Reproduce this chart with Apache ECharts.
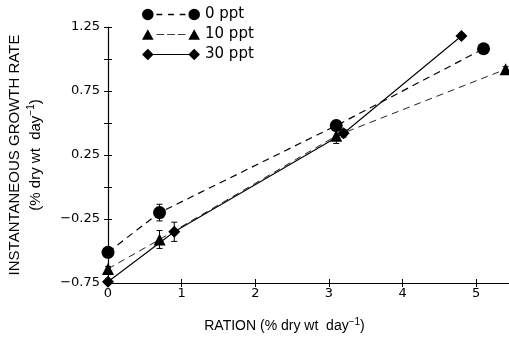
<!DOCTYPE html>
<html>
<head>
<meta charset="utf-8">
<script src="https://cdn.jsdelivr.net/npm/echarts@6/dist/echarts.min.js"></script>
<style>
  html, body { margin: 0; padding: 0; background: #fff; }
  #chart { width: 509px; height: 342px; }
</style>
</head>
<body>
<div id="chart"></div>
<script>
// ration (% dry wt / day) vs instantaneous growth rate, three salinities
const ration0 = [0, 0.7, 3.1, 5.1];
const growth0 = [-0.51, -0.20, 0.48, 1.08];
const se0 = [0.02, 0.065, 0.03, 0.02];

const ration10 = [0, 0.7, 3.1, 5.4];
const growth10 = [-0.64, -0.41, 0.40, 0.92];
const se10 = [0.02, 0.07, 0.06, 0.02];

const ration30 = [0, 0.9, 3.2, 4.8];
const growth30 = [-0.74, -0.35, 0.42, 1.18];
const se30 = [0.02, 0.075, 0.03, 0.02];

const seriesNames = ['0 ppt', '10 ppt', '30 ppt'];
const yTicks = [-0.75, -0.25, 0.25, 0.75, 1.25];

const font = 'DejaVu Sans';
const chart = echarts.init(document.getElementById('chart'));

const pts = (xs, ys) => xs.map((x, i) => [x, ys[i]]);
const errs = (xs, ys, se) => xs.map((x, i) => [x, ys[i] - se[i], ys[i] + se[i]]);

function errorBar(params, api) {
  const lo = api.coord([api.value(0), api.value(1)]);
  const hi = api.coord([api.value(0), api.value(2)]);
  const w = 3;
  const style = { stroke: '#000', lineWidth: 1 };
  return {
    type: 'group',
    children: [
      { type: 'line', shape: { x1: lo[0], y1: lo[1], x2: hi[0], y2: hi[1] }, style },
      { type: 'line', shape: { x1: lo[0] - w, y1: lo[1], x2: lo[0] + w, y2: lo[1] }, style },
      { type: 'line', shape: { x1: hi[0] - w, y1: hi[1], x2: hi[0] + w, y2: hi[1] }, style }
    ]
  };
}

// legend icons: marker - line - marker
const icons = {
  '0 ppt': 'path://M0 6a6 6 0 1 0 12 0a6 6 0 1 0 -12 0Z M48 6a6 6 0 1 0 12 0a6 6 0 1 0 -12 0Z M15 5.3h6v1.4h-6Z M27 5.3h6v1.4h-6Z M39 5.3h6v1.4h-6Z',
  '10 ppt': 'path://M0 11.5L6 0.5L12 11.5Z M48 11.5L54 0.5L60 11.5Z M15 5.6h8v0.7h-8Z M26 5.6h8v0.7h-8Z M37 5.6h8v0.7h-8Z',
  '30 ppt': 'path://M0 6L6 0L12 6L6 12Z M48 6L54 0L60 6L54 12Z M11 5.4h38v1.2h-38Z'
};

const xAxisBase = {
  type: 'value', min: 0, max: 5.5, interval: 1,
  gridIndex: 0, position: 'bottom',
  splitLine: { show: false }
};
const yAxisBase = {
  type: 'value', min: -0.75, max: 1.25, interval: 0.25,
  gridIndex: 0, position: 'left',
  splitLine: { show: false }
};

chart.setOption({
  animation: false,
  backgroundColor: '#fff',
  textStyle: { fontFamily: font, color: '#000' },
  grid: { left: 108, right: -4, top: 27, bottom: 59, outerBoundsMode: 'none', containLabel: false },
  legend: {
    orient: 'vertical',
    left: 137, top: 2,
    itemWidth: 58, itemHeight: 12, itemGap: 5,
    textStyle: { fontSize: 15, color: '#000', fontFamily: font },
    data: seriesNames.map(n => ({ name: n, icon: icons[n] }))
  },
  xAxis: [
    Object.assign({}, xAxisBase, {
      name: 'RATION (% dry wt  day{sup|−1})',
      nameLocation: 'middle', nameGap: 34,
      nameTextStyle: {
        fontFamily: 'Liberation Sans', fontSize: 14, color: '#000',
        padding: [0, 52, 0, 0],
        rich: { sup: { fontFamily: 'Liberation Sans', fontSize: 10, padding: [0, 0, 8, 0] } }
      },
      axisLine: { onZero: false, lineStyle: { color: '#000', width: 1.2 } },
      axisTick: { length: 4, lineStyle: { color: '#000' } },
      axisLabel: {
        margin: 4, fontSize: 13, color: '#000',
        formatter: v => (Number.isInteger(v) ? String(v) : '')
      }
    }),
    Object.assign({}, xAxisBase, {
      axisLine: { show: false, onZero: false },
      axisTick: { inside: true, length: 4, lineStyle: { color: '#000' } },
      axisLabel: { show: false }
    })
  ],
  yAxis: [
    Object.assign({}, yAxisBase, {
      name: 'INSTANTANEOUS GROWTH RATE\n(% dry wt  day{sup|−1})',
      nameLocation: 'middle', nameRotate: 90, nameGap: 62,
      nameTextStyle: {
        fontFamily: 'Liberation Sans', fontSize: 15, color: '#000', lineHeight: 21,
        rich: { sup: { fontFamily: 'Liberation Sans', fontSize: 10, padding: [0, 0, 8, 0] } }
      },
      axisLine: { onZero: false, lineStyle: { color: '#000', width: 1.2 } },
      axisTick: { length: 4, lineStyle: { color: '#000' } },
      axisLabel: {
        margin: 8, fontSize: 13, color: '#000',
        formatter: v => {
          const t = yTicks.find(k => Math.abs(k - v) < 1e-6);
          if (t === undefined) return '';
          return (t < 0 ? '−' : '') + Math.abs(t).toFixed(2);
        }
      }
    }),
    Object.assign({}, yAxisBase, {
      axisLine: { show: false, onZero: false },
      axisTick: { inside: true, length: 4, lineStyle: { color: '#000' } },
      axisLabel: { show: false }
    })
  ],
  series: [
    {
      name: '0 ppt', type: 'line', data: pts(ration0, growth0),
      symbol: 'circle', symbolSize: 13, clip: false, z: 3,
      itemStyle: { color: '#000' },
      lineStyle: { color: '#000', width: 1.2, type: [7, 5] }
    },
    {
      name: '10 ppt', type: 'line', data: pts(ration10, growth10),
      symbol: 'triangle', symbolSize: 12, clip: false, z: 3,
      itemStyle: { color: '#000' },
      lineStyle: { color: '#222', width: 1, type: [7, 5] }
    },
    {
      name: '30 ppt', type: 'line', data: pts(ration30, growth30),
      symbol: 'diamond', symbolSize: 12, clip: false, z: 3,
      itemStyle: { color: '#000' },
      lineStyle: { color: '#000', width: 1.1 }
    },
    { type: 'custom', renderItem: errorBar, data: errs(ration0, growth0, se0), z: 2 },
    { type: 'custom', renderItem: errorBar, data: errs(ration10, growth10, se10), z: 2 },
    { type: 'custom', renderItem: errorBar, data: errs(ration30, growth30, se30), z: 2 }
  ]
});
</script>
</body>
</html>
